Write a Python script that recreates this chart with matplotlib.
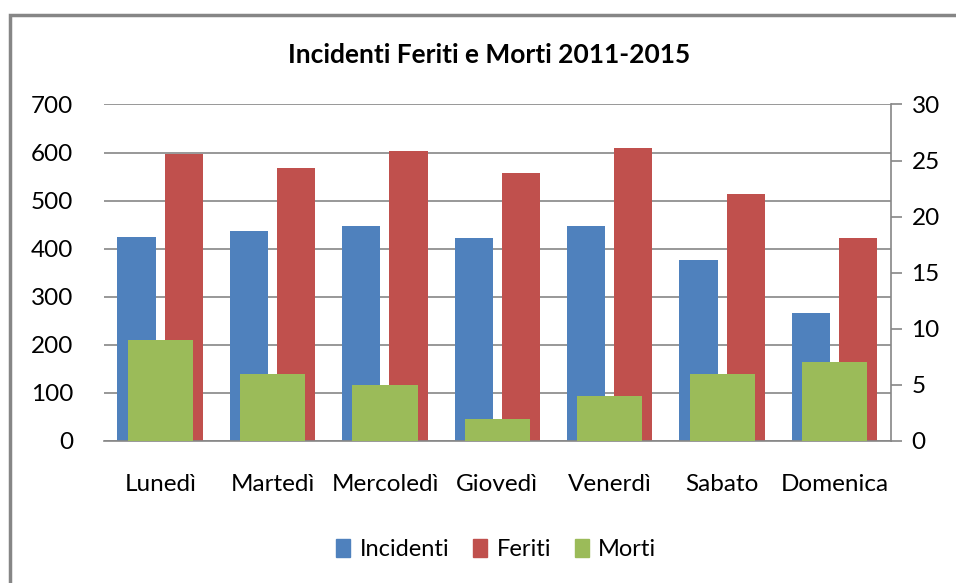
import matplotlib
matplotlib.use('Agg')
import matplotlib.pyplot as plt
from matplotlib.patches import Rectangle, Patch
import numpy as np

giorni = ['Lunedì', 'Martedì', 'Mercoledì', 'Giovedì', 'Venerdì', 'Sabato', 'Domenica']
incidenti = [425, 437, 447, 423, 447, 377, 266]
feriti = [598, 568, 604, 558, 610, 514, 422]
morti = [9, 6, 5, 2, 4, 6, 7]

blu = '#4F81BD'
rosso = '#C0504D'
verde = '#9BBB59'
grigio = '#868686'

plt.rcParams['font.family'] = ['Lato', 'DejaVu Sans']

fig = plt.figure(figsize=(9.56, 5.83), dpi=100, facecolor='w')
ax = fig.add_axes([0.1088, 0.2436, 0.8229, 0.5772])
ax2 = ax.twinx()

x = np.arange(len(giorni))
ax.bar(x - 0.21, incidenti, width=0.34, color=blu, zorder=2)
ax.bar(x + 0.21, feriti, width=0.34, color=rosso, zorder=2)
ax2.bar(x, morti, width=0.58, color=verde, zorder=3)

ax.set_xlim(-0.5, len(giorni) - 0.5)
ax.set_ylim(0, 700)
ax.set_yticks(range(0, 701, 100))
ax2.set_ylim(0, 30)
ax2.set_yticks(range(0, 31, 5))

ax.yaxis.grid(True, color=grigio, linewidth=1.2, zorder=0)
ax.set_axisbelow(True)

for s in ('left', 'top', 'right'):
    ax.spines[s].set_visible(False)
for s in ('left', 'top', 'bottom'):
    ax2.spines[s].set_visible(False)
ax.spines['bottom'].set_color(grigio)
ax.spines['bottom'].set_linewidth(1.2)
ax2.spines['right'].set_color(grigio)
ax2.spines['right'].set_linewidth(1.2)

ax.set_xticks(x)
ax.set_xticklabels(giorni)
ax.tick_params(axis='x', length=0, pad=24, labelsize=17.5)
ax.tick_params(axis='y', length=0, pad=22, labelsize=17.5)
ax2.tick_params(axis='y', length=8, width=1.2, color=grigio, pad=7, labelsize=17.5)

fig.text(0.512, 0.905, 'Incidenti Feriti e Morti 2011-2015', ha='center', va='center',
         fontsize=19, fontweight='bold')

handles = [Patch(color=blu, label='Incidenti'),
           Patch(color=rosso, label='Feriti'),
           Patch(color=verde, label='Morti')]
fig.legend(handles=handles, loc='center', bbox_to_anchor=(0.519, 0.057), ncol=3,
           frameon=False, fontsize=17, handlelength=0.6, handleheight=0.75,
           handletextpad=0.4, columnspacing=1.0)

# cornice del grafico (tagliata a destra e in basso)
frame = Rectangle((10 / 956, -0.1), 1.2, (583 - 15) / 583 + 0.1, transform=fig.transFigure,
                  fill=False, edgecolor=grigio, linewidth=2.5, clip_on=False)
fig.patches.append(frame)

fig.savefig('out.png', dpi=100, facecolor='w')
